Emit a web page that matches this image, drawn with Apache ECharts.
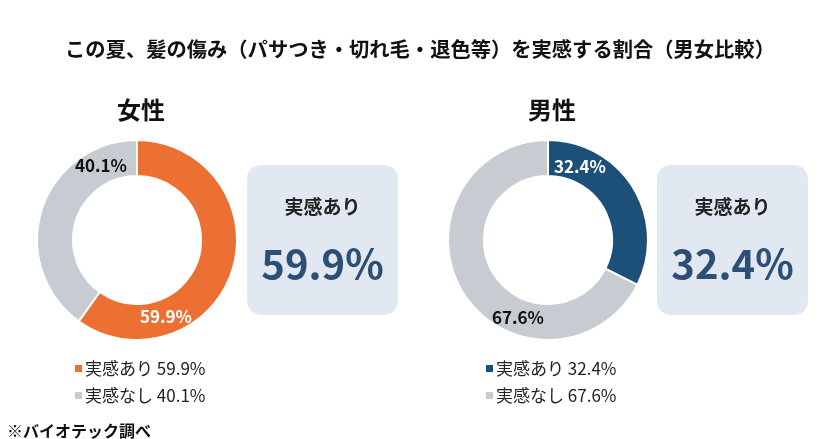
<!DOCTYPE html>
<html>
<head>
<meta charset="utf-8">
<script src="https://cdn.jsdelivr.net/npm/echarts@6/dist/echarts.min.js"></script>
<style>
  html, body { margin: 0; padding: 0; background: #fff; }
  #chart { width: 840px; height: 439px; }
</style>
</head>
<body>
<div id="chart"></div>
<script>
// データ
var categories = ['実感あり', '実感なし'];
var groups = ['女性', '男性'];
var femaleValues = [59.9, 40.1];
var maleValues = [32.4, 67.6];

var FONT = '"Noto Sans CJK JP", "Noto Sans", sans-serif';
var GRAY = '#c6ccd2';
var femaleColors = ['#ec7032', GRAY];
var maleColors = ['#1d5079', GRAY];
// ラベル位置 [series][dataIndex]
var labelPos = [
  [[166, 317], [101, 166]],
  [[580, 167], [518, 318]]
];

function makeData(values, colors, labelColors) {
  return categories.map(function (name, i) {
    return {
      name: name,
      value: values[i],
      itemStyle: { color: colors[i] },
      label: { color: labelColors[i] }
    };
  });
}

function pieSeries(values, colors, labelColors, cx, si) {
  return {
    type: 'pie',
    center: [cx, 240],
    radius: [64, 100],
    startAngle: 90,
    clockwise: true,
    silent: true,
    itemStyle: { borderColor: '#fff', borderWidth: 2 },
    label: {
      show: true,
      position: 'inside',
      formatter: function (p) { return p.value.toFixed(1) + '%'; },
      fontFamily: FONT,
      fontSize: 17,
      fontWeight: 'bold'
    },
    labelLine: { show: false },
    // ラベルを固定位置へ
    labelLayout: function (p) {
      var pos = labelPos[si][p.dataIndex];
      return { x: pos[0], y: pos[1], align: 'center', verticalAlign: 'middle' };
    },
    data: makeData(values, colors, labelColors)
  };
}

function makeLegend(values, colors, left) {
  return {
    orient: 'vertical',
    left: left,
    top: 355,
    itemWidth: 9,
    itemHeight: 9,
    itemGap: 10,
    icon: 'rect',
    selectedMode: false,
    data: categories.map(function (name, i) {
      return { name: name, itemStyle: { color: colors[i] } };
    }),
    formatter: function (name) {
      return name + ' ' + values[categories.indexOf(name)].toFixed(1) + '%';
    },
    textStyle: { fontFamily: FONT, fontSize: 17, color: '#222', padding: [0, 0, 0, -3] }
  };
}

function box(x, value) {
  return [
    {
      type: 'rect',
      shape: { x: x, y: 165, width: 151, height: 150, r: 14 },
      style: { fill: '#e1e8f1' }
    },
    {
      type: 'text',
      x: x + 75.5, y: 207,
      style: {
        text: '実感あり', fontFamily: FONT, fontSize: 19, fontWeight: 600,
        fill: '#222', align: 'center', verticalAlign: 'middle'
      }
    },
    {
      type: 'text',
      x: x + 75.5, y: 264,
      style: {
        text: value.toFixed(1) + '%', fontFamily: FONT, fontSize: 40, fontWeight: 600,
        fill: '#2d4f74', align: 'center', verticalAlign: 'middle'
      }
    }
  ];
}

var chart = echarts.init(document.getElementById('chart'));
chart.setOption({
  backgroundColor: '#fff',
  animation: false,
  title: [
    {
      text: 'この夏、髪の傷み（パサつき・切れ毛・退色等）を実感する割合（男女比較）',
      left: 'center',
      top: 34,
      textStyle: { fontFamily: FONT, fontSize: 20.3, fontWeight: 'bold', color: '#111' }
    },
    {
      text: groups[0], left: 136, top: 93, textAlign: 'center',
      textStyle: { fontFamily: FONT, fontSize: 24, fontWeight: 'bold', color: '#111' }
    },
    {
      text: groups[1], left: 547, top: 93, textAlign: 'center',
      textStyle: { fontFamily: FONT, fontSize: 24, fontWeight: 'bold', color: '#111' }
    },
    {
      text: '※バイオテック調べ', left: 2, top: 418,
      textStyle: { fontFamily: FONT, fontSize: 16, fontWeight: 'bold', color: '#111' }
    }
  ],
  legend: [
    makeLegend(femaleValues, femaleColors, 68),
    makeLegend(maleValues, maleColors, 479)
  ],
  series: [
    pieSeries(femaleValues, femaleColors, ['#fff', '#111'], 137, 0),
    pieSeries(maleValues, maleColors, ['#fff', '#111'], 548, 1)
  ],
  graphic: box(247, femaleValues[0]).concat(box(657, maleValues[0]))
});
</script>
</body>
</html>
